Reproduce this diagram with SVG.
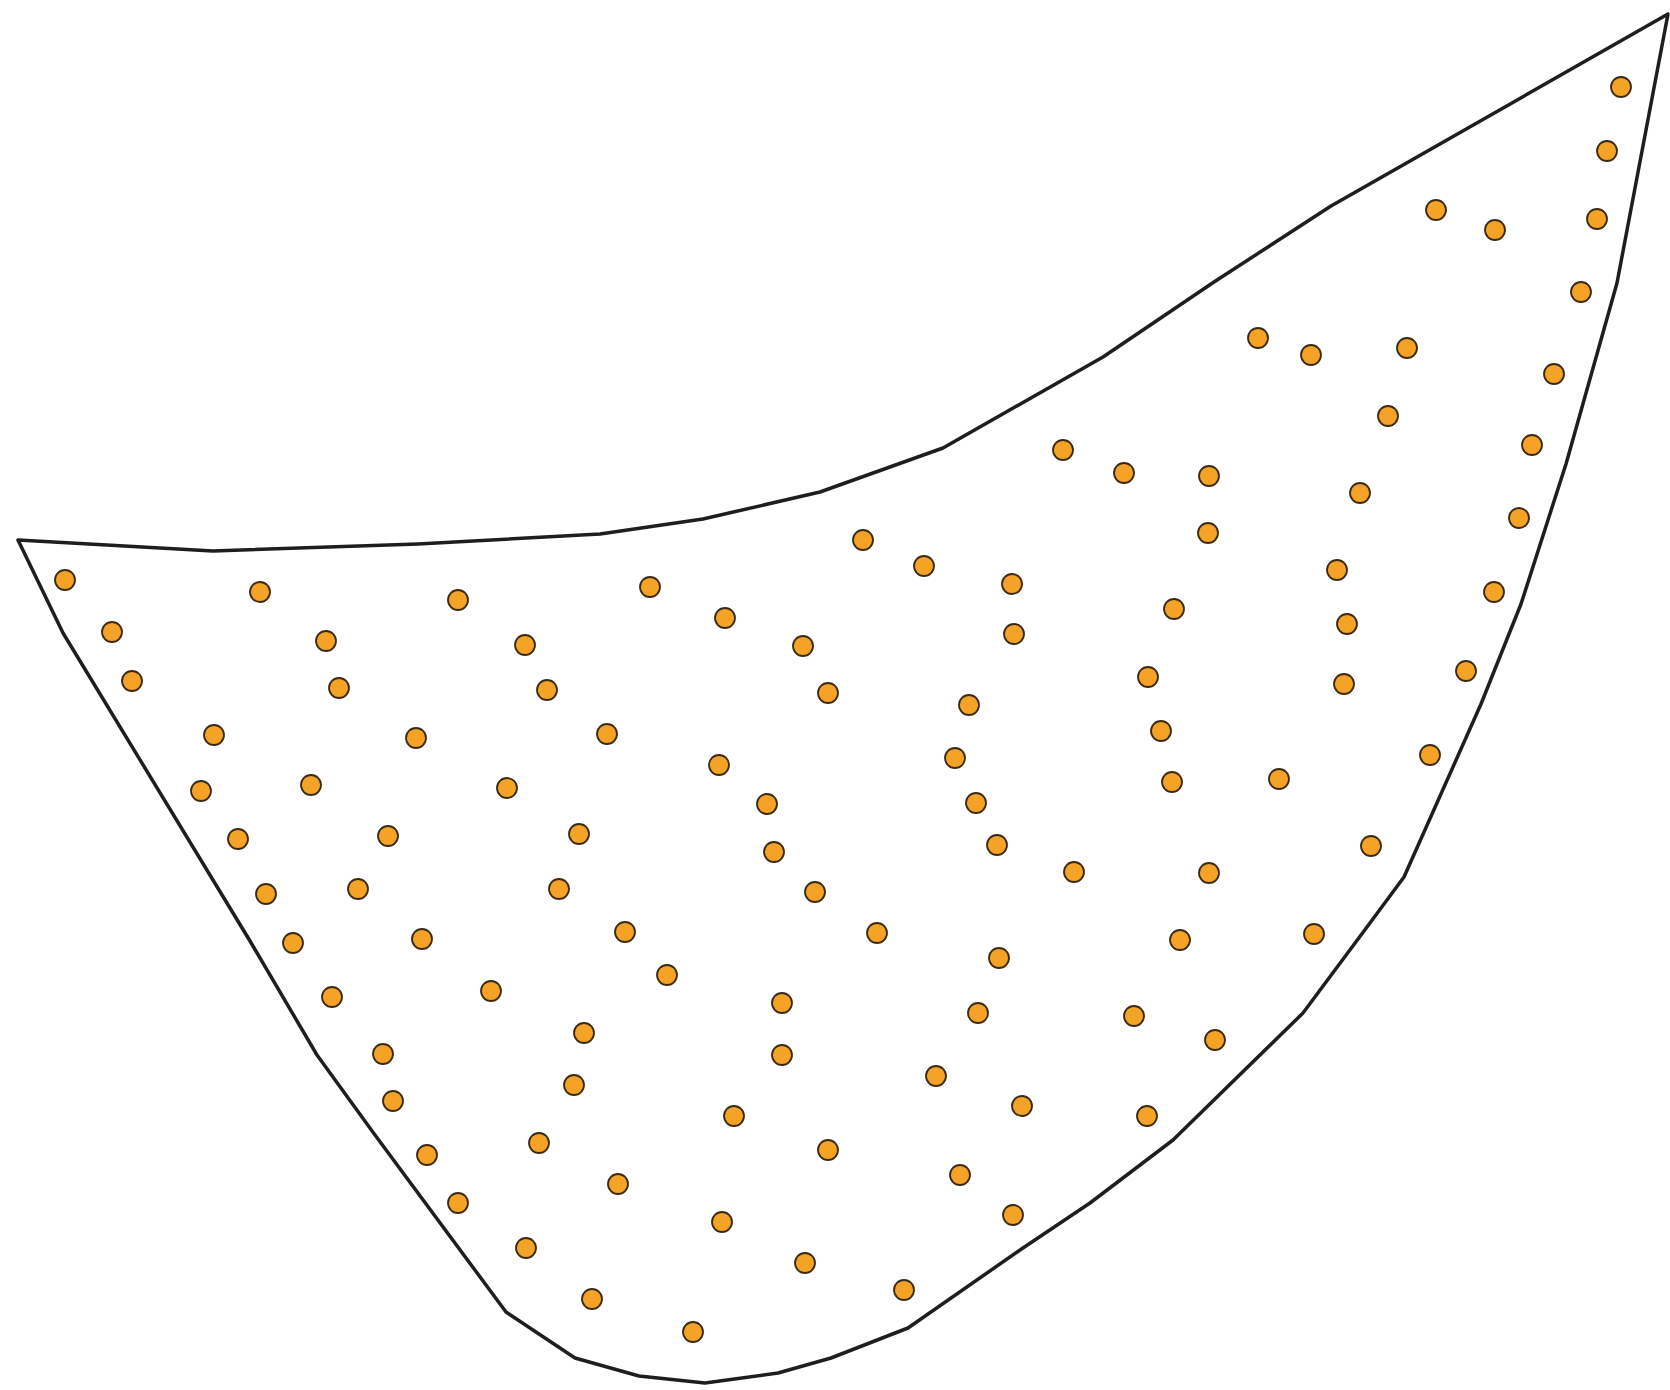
<svg xmlns="http://www.w3.org/2000/svg" width="1670" height="1390" viewBox="0 0 1670 1390">
<style>
.outline{fill:none;stroke:#1e1e1e;stroke-width:3.5;stroke-linejoin:round}
.d{fill:#f5a326;stroke:#3a2a12;stroke-width:1.8}
</style>
<rect width="1670" height="1390" fill="#ffffff"/>
<g id="region">
<polygon class="outline" points="18,540 213,551 418,544 600,534 703,519 820,492 943,448 1103,357 1214,282 1331,206 1668,14 1617,283 1566,464 1521,604 1481,704 1404,877 1367,927 1303,1013 1173,1140 1090,1203 1020,1250 908,1328 831,1358 778,1373 705,1383 639,1376 575,1358 506,1312 375,1135 317,1055 250,941 63,633"/>
</g>
<g id="points">
<circle class="d" cx="1621" cy="87" r="10"/>
<circle class="d" cx="1607" cy="151" r="10"/>
<circle class="d" cx="1436" cy="210" r="10"/>
<circle class="d" cx="1495" cy="230" r="10"/>
<circle class="d" cx="1597" cy="219" r="10"/>
<circle class="d" cx="1581" cy="292" r="10"/>
<circle class="d" cx="1258" cy="338" r="10"/>
<circle class="d" cx="1311" cy="355" r="10"/>
<circle class="d" cx="1407" cy="348" r="10"/>
<circle class="d" cx="1554" cy="374" r="10"/>
<circle class="d" cx="1388" cy="416" r="10"/>
<circle class="d" cx="1063" cy="450" r="10"/>
<circle class="d" cx="1124" cy="473" r="10"/>
<circle class="d" cx="1209" cy="476" r="10"/>
<circle class="d" cx="1532" cy="445" r="10"/>
<circle class="d" cx="1360" cy="493" r="10"/>
<circle class="d" cx="1208" cy="533" r="10"/>
<circle class="d" cx="1519" cy="518" r="10"/>
<circle class="d" cx="863" cy="540" r="10"/>
<circle class="d" cx="924" cy="566" r="10"/>
<circle class="d" cx="1012" cy="584" r="10"/>
<circle class="d" cx="1337" cy="570" r="10"/>
<circle class="d" cx="65" cy="580" r="10"/>
<circle class="d" cx="260" cy="592" r="10"/>
<circle class="d" cx="458" cy="600" r="10"/>
<circle class="d" cx="650" cy="587" r="10"/>
<circle class="d" cx="1494" cy="592" r="10"/>
<circle class="d" cx="725" cy="618" r="10"/>
<circle class="d" cx="1174" cy="609" r="10"/>
<circle class="d" cx="1347" cy="624" r="10"/>
<circle class="d" cx="112" cy="632" r="10"/>
<circle class="d" cx="326" cy="641" r="10"/>
<circle class="d" cx="525" cy="645" r="10"/>
<circle class="d" cx="803" cy="646" r="10"/>
<circle class="d" cx="1014" cy="634" r="10"/>
<circle class="d" cx="132" cy="681" r="10"/>
<circle class="d" cx="339" cy="688" r="10"/>
<circle class="d" cx="547" cy="690" r="10"/>
<circle class="d" cx="828" cy="693" r="10"/>
<circle class="d" cx="1148" cy="677" r="10"/>
<circle class="d" cx="1344" cy="684" r="10"/>
<circle class="d" cx="1466" cy="671" r="10"/>
<circle class="d" cx="969" cy="705" r="10"/>
<circle class="d" cx="214" cy="735" r="10"/>
<circle class="d" cx="416" cy="738" r="10"/>
<circle class="d" cx="607" cy="734" r="10"/>
<circle class="d" cx="1161" cy="731" r="10"/>
<circle class="d" cx="719" cy="765" r="10"/>
<circle class="d" cx="955" cy="758" r="10"/>
<circle class="d" cx="1430" cy="755" r="10"/>
<circle class="d" cx="201" cy="791" r="10"/>
<circle class="d" cx="311" cy="785" r="10"/>
<circle class="d" cx="507" cy="788" r="10"/>
<circle class="d" cx="767" cy="804" r="10"/>
<circle class="d" cx="976" cy="803" r="10"/>
<circle class="d" cx="1172" cy="782" r="10"/>
<circle class="d" cx="1279" cy="779" r="10"/>
<circle class="d" cx="238" cy="839" r="10"/>
<circle class="d" cx="388" cy="836" r="10"/>
<circle class="d" cx="579" cy="834" r="10"/>
<circle class="d" cx="774" cy="852" r="10"/>
<circle class="d" cx="997" cy="845" r="10"/>
<circle class="d" cx="1371" cy="846" r="10"/>
<circle class="d" cx="266" cy="894" r="10"/>
<circle class="d" cx="358" cy="889" r="10"/>
<circle class="d" cx="559" cy="889" r="10"/>
<circle class="d" cx="815" cy="892" r="10"/>
<circle class="d" cx="1074" cy="872" r="10"/>
<circle class="d" cx="1209" cy="873" r="10"/>
<circle class="d" cx="293" cy="943" r="10"/>
<circle class="d" cx="422" cy="939" r="10"/>
<circle class="d" cx="625" cy="932" r="10"/>
<circle class="d" cx="877" cy="933" r="10"/>
<circle class="d" cx="1180" cy="940" r="10"/>
<circle class="d" cx="1314" cy="934" r="10"/>
<circle class="d" cx="332" cy="997" r="10"/>
<circle class="d" cx="491" cy="991" r="10"/>
<circle class="d" cx="667" cy="975" r="10"/>
<circle class="d" cx="999" cy="958" r="10"/>
<circle class="d" cx="782" cy="1003" r="10"/>
<circle class="d" cx="383" cy="1054" r="10"/>
<circle class="d" cx="584" cy="1033" r="10"/>
<circle class="d" cx="978" cy="1013" r="10"/>
<circle class="d" cx="1134" cy="1016" r="10"/>
<circle class="d" cx="1215" cy="1040" r="10"/>
<circle class="d" cx="782" cy="1055" r="10"/>
<circle class="d" cx="393" cy="1101" r="10"/>
<circle class="d" cx="574" cy="1085" r="10"/>
<circle class="d" cx="936" cy="1076" r="10"/>
<circle class="d" cx="1022" cy="1106" r="10"/>
<circle class="d" cx="734" cy="1116" r="10"/>
<circle class="d" cx="1147" cy="1116" r="10"/>
<circle class="d" cx="427" cy="1155" r="10"/>
<circle class="d" cx="539" cy="1143" r="10"/>
<circle class="d" cx="828" cy="1150" r="10"/>
<circle class="d" cx="618" cy="1184" r="10"/>
<circle class="d" cx="960" cy="1175" r="10"/>
<circle class="d" cx="458" cy="1203" r="10"/>
<circle class="d" cx="722" cy="1222" r="10"/>
<circle class="d" cx="1013" cy="1215" r="10"/>
<circle class="d" cx="526" cy="1248" r="10"/>
<circle class="d" cx="805" cy="1263" r="10"/>
<circle class="d" cx="904" cy="1290" r="10"/>
<circle class="d" cx="592" cy="1299" r="10"/>
<circle class="d" cx="693" cy="1332" r="10"/>
</g>
</svg>
